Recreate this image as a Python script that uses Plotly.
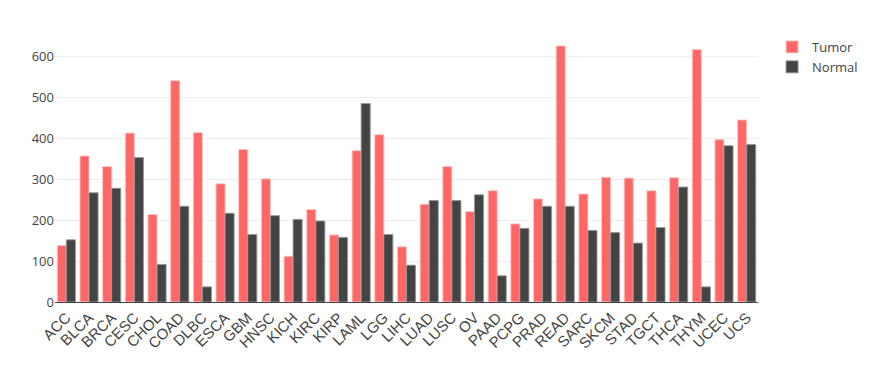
import plotly.graph_objects as go

categories = ["ACC", "BLCA", "BRCA", "CESC", "CHOL", "COAD", "DLBC", "ESCA", "GBM", "HNSC",
              "KICH", "KIRC", "KIRP", "LAML", "LGG", "LIHC", "LUAD", "LUSC", "OV", "PAAD",
              "PCPG", "PRAD", "READ", "SARC", "SKCM", "STAD", "TGCT", "THCA", "THYM", "UCEC", "UCS"]
tumor = [138, 357, 331, 413, 214, 541, 414, 289, 373, 301,
         112, 226, 164, 370, 409, 135, 239, 331, 221, 272,
         191, 252, 626, 264, 305, 303, 272, 304, 617, 397, 445]
normal = [152, 267, 278, 353, 92, 234, 37, 217, 165, 211,
          202, 198, 158, 485, 165, 90, 248, 248, 262, 64,
          180, 234, 234, 175, 170, 144, 182, 281, 37, 382, 385]
yticks = [0, 100, 200, 300, 400, 500, 600]

fig = go.Figure()
fig.add_trace(go.Bar(name="Tumor", x=categories, y=tumor,
                     marker=dict(color="#FF6666", line=dict(color="rgba(255,200,200,0.9)", width=1))))
fig.add_trace(go.Bar(name="Normal", x=categories, y=normal,
                     marker=dict(color="#444444", line=dict(color="rgba(150,150,150,0.9)", width=1))))

fig.update_layout(
    width=877, height=380,
    margin=dict(l=47, r=127, t=24, b=86),
    barmode="group", bargap=0.2, bargroupgap=0,
    plot_bgcolor="white", paper_bgcolor="white",
    font=dict(family="Open Sans", color="#444", size=12),
    legend=dict(x=1.02, y=1, xanchor="left", yanchor="top", font=dict(size=13)),
    xaxis=dict(tickangle=-45, tickfont=dict(family="Liberation Sans", size=15, color="#444"),
               showline=True, linecolor="#444", linewidth=1, ticks="", automargin=False),
    yaxis=dict(tickvals=yticks, range=[0, 660], gridcolor="#eee", zeroline=False,
               tickfont=dict(size=13), automargin=False),
)
fig.write_html("out.html")
